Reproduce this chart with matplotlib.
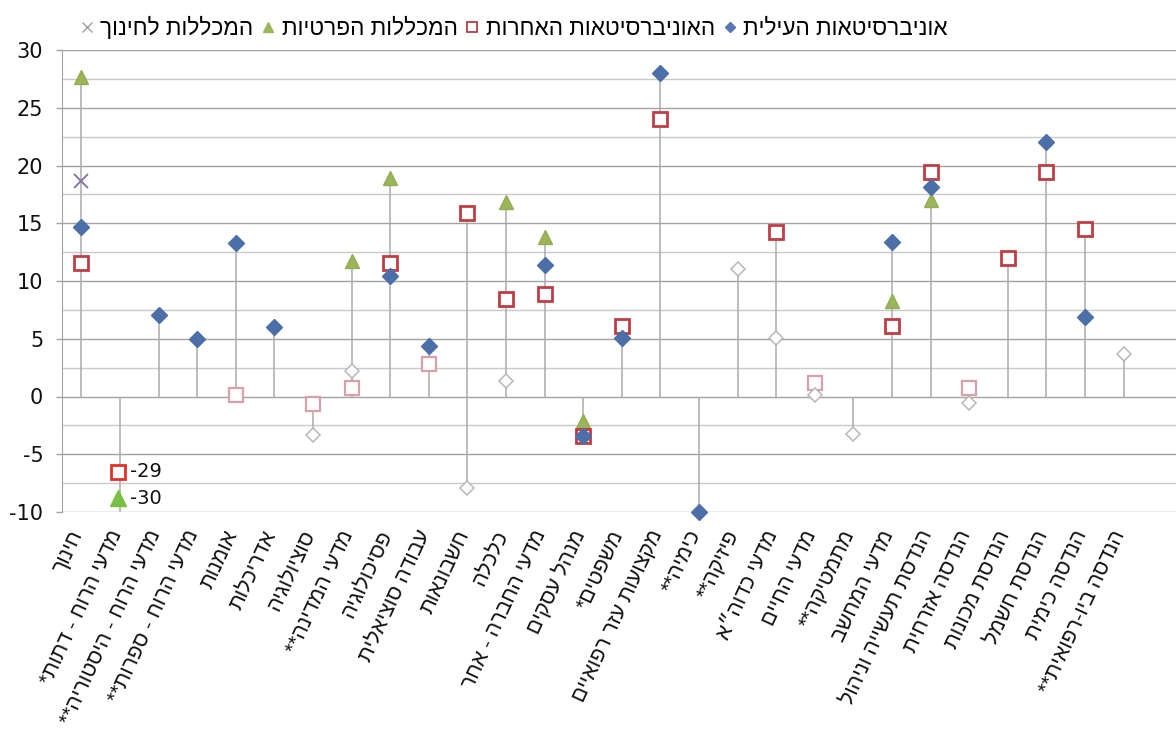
import matplotlib
matplotlib.use("Agg")
import matplotlib.pyplot as plt
import numpy as np
from matplotlib.lines import Line2D
from matplotlib.transforms import ScaledTranslation

nan = np.nan

# Field-of-study categories (logical Hebrew order)
categories = [
    "חינוך", "מדעי הרוח - דתות*", "מדעי הרוח - היסטוריה**", "מדעי הרוח - ספרות**",
    "אומנות", "אדריכלות", "סוציולוגיה", "מדעי המדינה**", "פסיכולוגיה",
    "עבודה סוציאלית", "חשבונאות", "כלכלה", "מדעי החברה - אחר", "מנהל עסקים",
    "משפטים*", "מקצועות עזר רפואיים", "כימיה**", "פיזיקה**", "מדעי כדוה״א",
    "מדעי החיים", "מתמטיקה**", "מדעי המחשב", "הנדסת תעשייה וניהול",
    "הנדסה אזרחית", "הנדסת מכונות", "הנדסת חשמל", "הנדסה כימית",
    "הנדסה ביו-רפואית**",
]

series_names = ["אוניברסיטאות העילית", "האוניברסיטאות האחרות",
                "המכללות הפרטיות", "המכללות לחינוך"]

elite_unis = [14.7, nan, 7.05, 5.0, 13.3, 6.0, -3.3, 2.2, 10.4, 4.4,
              -7.9, 1.3, 11.4, -3.4, 5.1, 28.0, -10.0, 11.0, 5.05, 0.15,
              -3.24, 13.4, 18.1, -0.58, nan, 22.05, 6.9, 3.7]
elite_significant = [1, 0, 1, 1, 1, 1, 0, 0, 1, 1,
                     0, 0, 1, 1, 1, 1, 1, 0, 0, 0,
                     0, 1, 1, 0, 0, 1, 1, 0]

other_unis = [11.6, -29.0, nan, nan, 0.15, nan, -0.66, 0.72, 11.6, 2.8,
              15.9, 8.4, 8.9, -3.4, 6.07, 24.0, nan, nan, 14.25, 1.16,
              nan, 6.07, 19.45, 0.72, 12.0, 19.45, 14.5, nan]
other_significant = [1, 1, 0, 0, 0, 0, 0, 0, 1, 0,
                     1, 1, 1, 1, 1, 1, 0, 0, 1, 0,
                     0, 1, 1, 0, 1, 1, 1, 0]

private_colleges = [27.7, -30.0, nan, nan, nan, nan, nan, 11.7, 18.9, nan,
                    nan, 16.8, 13.8, -2.1, nan, nan, nan, nan, nan, nan,
                    nan, 8.3, 17.05, nan, nan, nan, nan, nan]

edu_colleges = [18.7] + [nan] * 27

y_ticks = [-10, -5, 0, 5, 10, 15, 20, 25, 30]


def rtl(s):
    """Visual (left-to-right) order for a right-to-left string."""
    return s[::-1]


HEB = ["Liberation Sans", "DejaVu Sans"]
plt.rcParams["font.family"] = ["DejaVu Sans"]

W, H, DPI = 1176, 744, 100
fig = plt.figure(figsize=(W / DPI, H / DPI), dpi=DPI)
ax = fig.add_axes([62 / W, 1 - 512 / H, (W - 62) / W, (512 - 50) / H])

x = np.arange(len(categories))
ymin, ymax = y_ticks[0], y_ticks[-1]
ax.set_xlim(-0.5, -0.5 + (W - 62) / 38.6)
ax.set_ylim(ymin, ymax)

# gridlines every 2.5
for v in np.arange(ymin, ymax + 0.01, 2.5):
    major = abs(v / 5 - round(v / 5)) < 1e-6
    ax.axhline(v, color="#a3a3a3" if major else "#c9c9c9", lw=1.0, zorder=0)

# high-low lines spanning each category's values and zero
all_vals = np.array([elite_unis, other_unis, private_colleges, edu_colleges], dtype=float)
lo = np.nanmin(np.vstack([all_vals, np.zeros(len(x))]), axis=0)
hi = np.nanmax(np.vstack([all_vals, np.zeros(len(x))]), axis=0)
ax.vlines(x, lo, hi, color="#ababab", lw=1.1, zorder=1)


def scatter_series(vals, mask, **kw):
    vals = np.asarray(vals, dtype=float)
    mask = np.asarray(mask, dtype=bool) & ~np.isnan(vals)
    inside = mask & (vals >= ymin) & (vals <= ymax)
    outside = mask & ~inside
    ax.plot(x[inside], vals[inside], ls="none", clip_on=False, **kw)
    ax.plot(x[outside], vals[outside], ls="none", clip_on=True, **kw)


ones = np.ones(len(x), dtype=bool)
esig = np.array(elite_significant, dtype=bool)
osig = np.array(other_significant, dtype=bool)

scatter_series(private_colleges, ones, marker="^", ms=10.5, color="#9bb55a",
               mec="#93ad52", zorder=3)
scatter_series(other_unis, osig, marker="s", ms=10.5, mfc="white",
               mec="#bf3d45", mew=2.0, zorder=4)
scatter_series(other_unis, ~osig, marker="s", ms=10, mfc="white",
               mec="#d8a0aa", mew=1.6, zorder=4)
scatter_series(elite_unis, esig, marker="D", ms=8.3, color="#4d6fa8", zorder=5)
scatter_series(elite_unis, ~esig, marker="D", ms=7.5, mfc="white",
               mec="#b8b8b8", mew=1.1, zorder=5)
scatter_series(edu_colleges, ones, marker="x", ms=10, color="#8678a0",
               mew=1.4, zorder=6)

# value labels for the off-scale points
for vals, pos, mk in [(other_unis, -6.5, "s"), (private_colleges, -8.8, "^")]:
    v = vals[1]
    if mk == "s":
        ax.plot([0.95], [pos], marker="s", ms=10, mfc="white", mec="#e0312c",
                mew=2.0, ls="none", clip_on=False, zorder=7)
    else:
        ax.plot([0.95], [pos], marker="^", ms=11, color="#78c043",
                ls="none", clip_on=False, zorder=7)
    ax.text(1.25, pos, f"{v:g}", fontsize=14, va="center", ha="left",
            color="#111111", zorder=7)

# axes styling
for side in ["top", "right", "bottom"]:
    ax.spines[side].set_visible(False)
ax.spines["left"].set_color("#a3a3a3")
ax.set_yticks(y_ticks)
ax.set_yticklabels([str(t) for t in y_ticks], fontsize=15, color="#111111")
ax.tick_params(axis="y", length=4.5, width=1, color="#a3a3a3", pad=9)

ax.set_xticks(x)
ax.set_xticklabels([rtl(c) for c in categories], rotation=65, ha="right",
                   va="center", rotation_mode="anchor", fontsize=15.3,
                   family=HEB, color="#111111")
ax.tick_params(axis="x", length=0, pad=14)
shift = ScaledTranslation(-3 / DPI, 0, fig.dpi_scale_trans)
for lab in ax.get_xticklabels():
    lab.set_transform(lab.get_transform() + shift)

# legend, laid out right-to-left
handles = [
    Line2D([], [], ls="none", marker="D", ms=5, color="#5877b0"),
    Line2D([], [], ls="none", marker="s", ms=7, mfc="white", mec="#b04048", mew=1.3),
    Line2D([], [], ls="none", marker="^", ms=7, color="#9bb55a"),
    Line2D([], [], ls="none", marker="x", ms=7, color="#a0a0a0", mew=1.0),
]
order = [3, 2, 1, 0]
leg = fig.legend([handles[i] for i in order], [rtl(series_names[i]) for i in order],
                 loc="upper left", bbox_to_anchor=(64 / W, 1.0 - 1 / H), ncol=4,
                 frameon=False, handlelength=0.6, handletextpad=0.3,
                 columnspacing=0.35, borderpad=0.2,
                 prop={"family": HEB, "size": 16.3})

fig.savefig("out.png", dpi=DPI, facecolor="white")
